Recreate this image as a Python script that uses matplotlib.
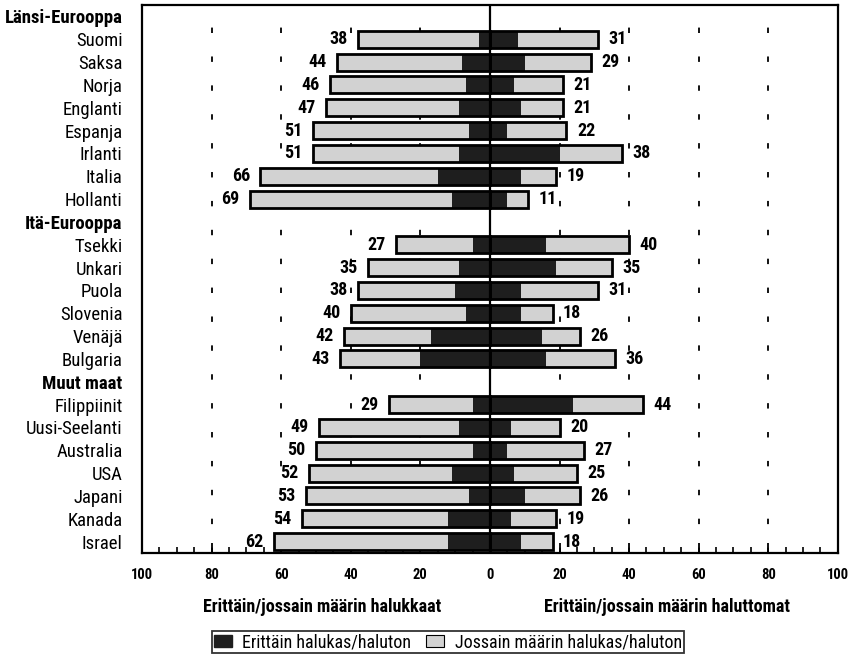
import numpy as np
import matplotlib.pyplot as plt
from matplotlib import font_manager
from matplotlib.patches import Patch
from matplotlib.ticker import MultipleLocator, FuncFormatter

# prefer a narrow face if one is installed
installed = {f.name for f in font_manager.fontManager.ttflist}
narrow = [f for f in ['Liberation Sans Narrow', 'DejaVu Sans Condensed', 'Roboto Condensed',
                      'Open Sans Condensed'] if f in installed]
family = narrow[0] if narrow else 'Liberation Sans'
scale = 1.0 if narrow else 0.8
plt.rcParams['font.family'] = [family, 'DejaVu Sans']

# groups and the number of countries in each
groups = ['Länsi-Eurooppa', 'Itä-Eurooppa', 'Muut maat']
group_sizes = [8, 6, 7]

countries = ['Suomi', 'Saksa', 'Norja', 'Englanti', 'Espanja', 'Irlanti', 'Italia', 'Hollanti',
             'Tsekki', 'Unkari', 'Puola', 'Slovenia', 'Venäjä', 'Bulgaria',
             'Filippiinit', 'Uusi-Seelanti', 'Australia', 'USA', 'Japani', 'Kanada', 'Israel']

# halukkaat (left side): total and "erittäin" part
willing_total = [38, 44, 46, 47, 51, 51, 66, 69, 27, 35, 38, 40, 42, 43, 29, 49, 50, 52, 53, 54, 62]
willing_strong = [3, 8, 7, 9, 6, 9, 15, 11, 5, 9, 10, 7, 17, 20, 5, 9, 5, 11, 6, 12, 12]
# haluttomat (right side)
unwilling_total = [31, 29, 21, 21, 22, 38, 19, 11, 40, 35, 31, 18, 26, 36, 44, 20, 27, 25, 26, 19, 18]
unwilling_strong = [8, 10, 7, 9, 5, 20, 9, 5, 16, 19, 9, 9, 15, 16, 24, 6, 5, 7, 10, 6, 9]

# row positions: a header row before each group
ylabels, header_rows, country_rows = [], [], []
row = 0
i = 0
for g, n in zip(groups, group_sizes):
    ylabels.append(g)
    header_rows.append(row)
    row += 1
    for k in range(n):
        ylabels.append(countries[i])
        country_rows.append(row)
        row += 1
        i += 1
country_rows = np.array(country_rows)

wt = np.array(willing_total)
ws = np.array(willing_strong)
ut = np.array(unwilling_total)
us = np.array(unwilling_strong)

DARK = '#1e1e1e'
LIGHT = '#d2d2d2'
h = 0.74

fig = plt.figure(figsize=(8.48, 6.57), dpi=100)
ax = fig.add_axes([0.1675, 0.1583, 0.8205, 0.8341])

# vertical dashed grid
for v in [-80, -60, -40, -20, 20, 40, 60, 80]:
    ax.axvline(v, color='black', lw=1.3, linestyle=(0, (3, 13)), zorder=0)

# left side
ax.barh(country_rows, -(wt - ws), left=-ws, height=h, color=LIGHT, zorder=2)
ax.barh(country_rows, -ws, height=h, color=DARK, zorder=2)
# right side
ax.barh(country_rows, ut - us, left=us, height=h, color=LIGHT, zorder=2)
ax.barh(country_rows, us, height=h, color=DARK, zorder=2)
# outlines round each half
ax.barh(country_rows, -wt, height=h, facecolor='none', edgecolor='black', lw=2, zorder=3)
ax.barh(country_rows, ut, height=h, facecolor='none', edgecolor='black', lw=2, zorder=3)

ax.axvline(0, color='black', lw=1.6, zorder=4)

fs = 13 * scale
for y, a, b in zip(country_rows, wt, ut):
    ax.text(-a - 3, y, str(a), ha='right', va='center', fontsize=fs, fontweight='bold')
    ax.text(b + 3, y, str(b), ha='left', va='center', fontsize=fs, fontweight='bold')

ax.set_xlim(-100, 100)
ax.set_ylim(row - 0.5, -0.5)
ax.xaxis.set_major_locator(MultipleLocator(20))
ax.xaxis.set_minor_locator(MultipleLocator(5))
ax.xaxis.set_major_formatter(FuncFormatter(lambda v, p: '%d' % abs(v)))
ax.tick_params(axis='x', which='major', direction='in', length=7, width=1.3,
               labelsize=10.5 * scale, pad=11)
ax.tick_params(axis='x', which='minor', direction='in', length=4, width=1.2)
for t in ax.get_xticklabels():
    t.set_fontweight('bold')

ax.set_yticks(range(row))
ax.set_yticklabels(ylabels, fontsize=13.5 * scale)
ax.tick_params(axis='y', length=0, pad=14)
for r, t in zip(range(row), ax.get_yticklabels()):
    if r in header_rows:
        t.set_fontweight('bold')

for s in ax.spines.values():
    s.set_linewidth(1.6)

fig.text(0.38, 0.076, 'Erittäin/jossain määrin halukkaat', ha='center', va='center',
         fontsize=13 * scale, fontweight='bold')
fig.text(0.787, 0.076, 'Erittäin/jossain määrin haluttomat', ha='center', va='center',
         fontsize=13 * scale, fontweight='bold')

handles = [Patch(facecolor=DARK, edgecolor=DARK), Patch(facecolor=LIGHT, edgecolor='black', lw=0.8)]
leg = fig.legend(handles, ['Erittäin halukas/haluton', 'Jossain määrin halukas/haluton'],
                 loc='center', bbox_to_anchor=(0.528, 0.0225), ncol=2, fontsize=13 * scale,
                 frameon=True, fancybox=False, borderpad=0.1, handlelength=1.0,
                 handleheight=0.7, columnspacing=0.8, handletextpad=0.6)
leg.get_frame().set_edgecolor('black')
leg.get_frame().set_linewidth(1.3)

fig.savefig('out.png', dpi=100)
